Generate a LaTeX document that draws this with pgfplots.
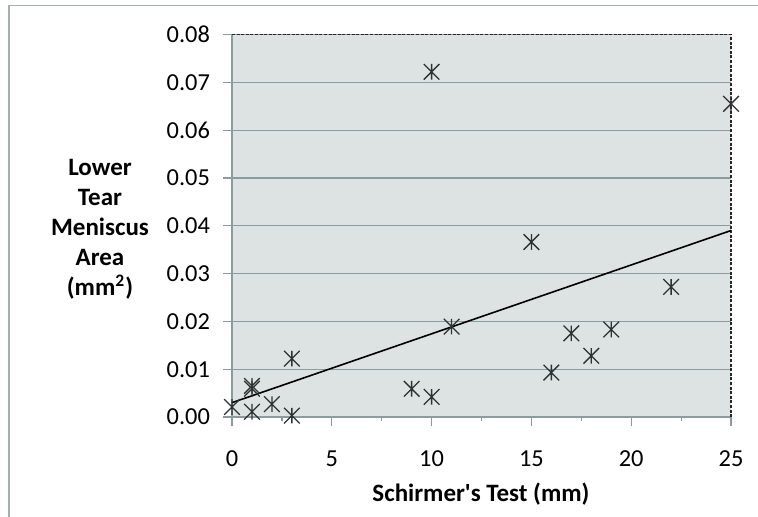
\documentclass[border=0pt]{standalone}
\usepackage{fontspec}
\setmainfont{Carlito}
\usepackage{pgfplots}
\pgfplotsset{compat=1.18}
\definecolor{bgcol}{RGB}{221,227,227}
\definecolor{gridcol}{RGB}{140,155,155}
\definecolor{framecol}{RGB}{165,175,175}
\definecolor{markcol}{RGB}{45,50,50}
\pgfdeclareplotmark{xstar}{%
  \pgfpathmoveto{\pgfqpoint{-\pgfplotmarksize}{-\pgfplotmarksize}}%
  \pgfpathlineto{\pgfqpoint{\pgfplotmarksize}{\pgfplotmarksize}}%
  \pgfpathmoveto{\pgfqpoint{-\pgfplotmarksize}{\pgfplotmarksize}}%
  \pgfpathlineto{\pgfqpoint{\pgfplotmarksize}{-\pgfplotmarksize}}%
  \pgfpathmoveto{\pgfqpoint{0pt}{-\pgfplotmarksize}}%
  \pgfpathlineto{\pgfqpoint{0pt}{\pgfplotmarksize}}%
  \pgfusepathqstroke}
\begin{document}
\begin{tikzpicture}
\useasboundingbox (0,0) rectangle (379pt,-258.5pt);
\draw[framecol, line width=0.8pt] (4.5pt,-260pt) -- (4.5pt,-2.8pt) -- (380pt,-2.8pt);
\begin{axis}[
  at={(116pt,-208.5pt)}, anchor=south west,
  scale only axis, width=249.5pt, height=191.25pt,
  xmin=0, xmax=25, ymin=0, ymax=0.08,
  xtick={0,5,10,15,20,25}, minor x tick num=1,
  ytick={0,0.01,...,0.08},
  tick pos=left, tick align=outside,
  major tick length=4.5pt, minor tick length=2pt,
  every tick/.style={gridcol, line width=0.6pt},
  axis background/.style={fill=bgcol},
  axis line style={draw=none},
  ymajorgrids, major grid style={gridcol, line width=0.6pt},
  /pgf/number format/assume math mode=true,
  tick label style={font=\fontsize{12.2}{14}\selectfont, text=black},
  yticklabel style={/pgf/number format/fixed, /pgf/number format/fixed zerofill, /pgf/number format/precision=2, xshift=-3pt},
  xticklabel style={yshift=-9pt},
  scaled y ticks=false,
  clip=false,
]
\draw[gridcol, line width=0.8pt] (rel axis cs:0,0) -- (rel axis cs:0,1);
\draw[gridcol, line width=0.8pt] (rel axis cs:0,0) -- (rel axis cs:1,0);
\draw[black!85, line width=0.8pt, dash pattern=on 1.5pt off 0.8pt] (rel axis cs:0,1) -- (rel axis cs:1,1) -- (rel axis cs:1,0);
\addplot[only marks, mark=xstar, mark size=3.9pt, mark options={markcol, line width=0.65pt}] coordinates {
 (0,0.0021) (1,0.0065) (1,0.0059) (1,0.0011) (2,0.0027) (3,0.0122) (3,0.0003)
 (9,0.0059) (10,0.0042) (11,0.0189) (15,0.0366) (16,0.0093) (17,0.0175)
 (18,0.0128) (19,0.0183) (22,0.0272) (10,0.0722) (25,0.0655)
};
\addplot[black, line width=0.8pt] coordinates {(0,0.0030) (25,0.0390)};
\end{axis}
\node[align=center, font=\bfseries\fontsize{12.5}{15}\selectfont] at (50pt,-114.5pt) {Lower\\Tear\\Meniscus\\Area\\(mm\textsuperscript{2})};
\node[font=\bfseries\fontsize{12.5}{14}\selectfont] at (240.5pt,-247pt) {Schirmer\textquotesingle s Test (mm)};
\end{tikzpicture}
\end{document}
